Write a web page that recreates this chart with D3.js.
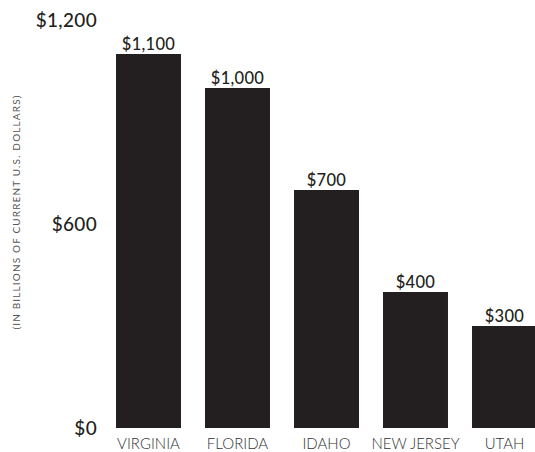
<!DOCTYPE html>
<html>
<head>
<meta charset="utf-8">
<script src="https://cdn.jsdelivr.net/npm/d3@7"></script>
<style>
  html, body { margin: 0; padding: 0; background: #fff; }
  svg { display: block; }
</style>
</head>
<body>
<svg id="chart" width="535" height="452"></svg>
<script>
// Chart data
const states = ["VIRGINIA", "FLORIDA", "IDAHO", "NEW JERSEY", "UTAH"];
const values = [1100, 1000, 700, 400, 300];
const tickValues = [0, 600, 1200];
const tickLabels = ["$0", "$600", "$1,200"];
const axisTitle = "(IN BILLIONS OF CURRENT U.S. DOLLARS)";

const svg = d3.select("#chart");
const font = "Lato, 'Open Sans', sans-serif";
const ink = "#231f20";

const x = d3.scaleBand()
  .domain(states)
  .range([104, 549])
  .paddingInner(0.27)
  .paddingOuter(0.135);

const y = d3.scaleLinear()
  .domain([0, 1200])
  .range([428, 20]);

const data = states.map((s, i) => ({ state: s, value: values[i] }));

// Bars
svg.append("g")
  .selectAll("rect")
  .data(data)
  .join("rect")
  .attr("x", d => x(d.state))
  .attr("y", d => y(d.value))
  .attr("width", x.bandwidth())
  .attr("height", d => y(0) - y(d.value))
  .attr("fill", ink);

// Value labels above bars
svg.append("g")
  .selectAll("text")
  .data(data)
  .join("text")
  .attr("x", d => x(d.state) + x.bandwidth() / 2)
  .attr("y", d => y(d.value) - 4)
  .attr("text-anchor", "middle")
  .attr("font-family", font)
  .attr("font-size", 16.5)
  .attr("font-weight", 500)
  .attr("letter-spacing", 0.3)
  .attr("fill", ink)
  .text(d => "$" + d3.format(",")(d.value));

// Y axis (labels only)
const yAxis = d3.axisLeft(y)
  .tickValues(tickValues)
  .tickFormat((d, i) => tickLabels[i])
  .tickSize(0)
  .tickPadding(0);

const gy = svg.append("g")
  .attr("transform", "translate(97,0)")
  .call(yAxis);
gy.select(".domain").remove();
gy.selectAll("text")
  .attr("font-family", font)
  .attr("font-size", 19)
  .attr("font-weight", 500)
  .attr("letter-spacing", 0.3)
  .attr("fill", ink)
  .attr("dy", "0.35em");

// X axis (category labels only)
const xAxis = d3.axisBottom(x).tickSize(0).tickPadding(0);
const gx = svg.append("g")
  .attr("transform", "translate(0,438)")
  .call(xAxis);
gx.select(".domain").remove();
gx.selectAll("text")
  .attr("font-family", font)
  .attr("font-size", 15)
  .attr("font-weight", 300)
  .attr("fill", "#333")
  .attr("dy", "0.75em");

// Rotated axis title
svg.append("text")
  .attr("transform", "translate(20,212) rotate(-90)")
  .attr("text-anchor", "middle")
  .attr("font-family", font)
  .attr("font-size", 10)
  .attr("font-weight", 400)
  .attr("letter-spacing", 1.15)
  .attr("fill", "#555")
  .text(axisTitle);
</script>
</body>
</html>
